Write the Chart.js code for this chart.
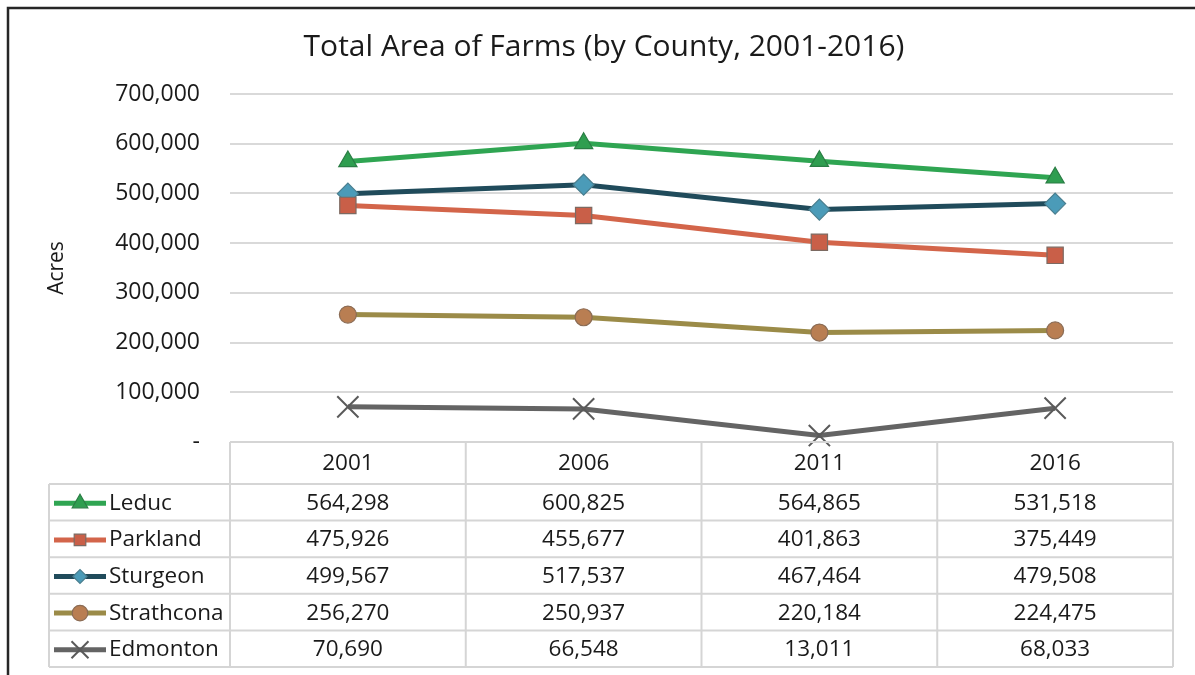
<!DOCTYPE html>
<html>
<head>
<meta charset="utf-8">
<title>Total Area of Farms</title>
<script src="https://cdn.jsdelivr.net/npm/chart.js@4.4.1/dist/chart.umd.min.js"></script>
<style>
  html, body { margin: 0; padding: 0; background: #ffffff; }
  #wrap { width: 1195px; height: 675px; position: relative; }
</style>
</head>
<body>
<div id="wrap"><canvas id="farmChart" width="1195" height="675"></canvas></div>
<script>
// ---------------- DATA ----------------
const years = ['2001', '2006', '2011', '2016'];
const countyNames = ['Leduc', 'Parkland', 'Sturgeon', 'Strathcona', 'Edmonton'];
const leducAcres = [564298, 600825, 564865, 531518];
const parklandAcres = [475926, 455677, 401863, 375449];
const sturgeonAcres = [499567, 517537, 467464, 479508];
const strathconaAcres = [256270, 250937, 220184, 224475];
const edmontonAcres = [70690, 66548, 13011, 68033];
const yTickValues = [0, 100000, 200000, 300000, 400000, 500000, 600000, 700000];

const FONT = '"Open Sans", "DejaVu Sans", sans-serif';
const TEXT = '#1a1a1a';

// stijl per reeks (lijn + marker), ook gebruikt in de legendakolom van de tabel
const seriesStyle = [
  { line: '#2fa552', fill: '#2f9e50', edge: '#2a7d44', style: 'triangle', r: 10.5, lr: 9 },
  { line: '#d3654a', fill: '#c95f48', edge: '#7c6a62', style: 'rect',     r: 11.5, lr: 8.2 },
  { line: '#204b5b', fill: '#4b9bb8', edge: '#4a7e8e', style: 'rectRot',  r: 10.5, lr: 7 },
  { line: '#9b8b48', fill: '#b97e52', edge: '#8b6c55', style: 'circle',   r: 8.5,  lr: 7.8 },
  { line: '#646464', fill: '#646464', edge: '#5a5a5a', style: 'crossRot', r: 15,   lr: 12 }
];
const seriesValues = [leducAcres, parklandAcres, sturgeonAcres, strathconaAcres, edmontonAcres];

function fmt(v) {
  return v.toLocaleString('en-US');
}

// ---------------- PLUGINS ----------------

// kader om de grafiek (alleen links en boven zichtbaar in het origineel)
const framePlugin = {
  id: 'frame',
  beforeDraw(chart) {
    const ctx = chart.ctx;
    ctx.save();
    ctx.fillStyle = '#ffffff';
    ctx.fillRect(0, 0, chart.width, chart.height);
    ctx.strokeStyle = '#262626';
    ctx.lineWidth = 2.5;
    ctx.strokeRect(8, 8, chart.width + 40, chart.height + 40);
    ctx.restore();
  }
};

function drawMarker(ctx, st, radius, x, y) {
  const bw = st.style === 'crossRot' ? 2 : 1.2;
  ctx.fillStyle = st.fill;
  ctx.strokeStyle = st.edge;
  ctx.lineWidth = bw; // drawPoint zet de lijndikte zelf niet
  const opts = { pointStyle: st.style, radius: radius, rotation: 0, borderWidth: bw };
  if (Chart.helpers && Chart.helpers.drawPoint) {
    Chart.helpers.drawPoint(ctx, opts, x, y);
  } else {
    ctx.beginPath();
    ctx.arc(x, y, radius, 0, Math.PI * 2);
    ctx.fill();
    ctx.stroke();
  }
}

// datatabel onder de grafiek, kolommen volgen de x-as
const dataTablePlugin = {
  id: 'dataTable',
  afterDraw(chart) {
    const { ctx, chartArea, scales } = chart;
    const x = scales.x;
    const colW = (chartArea.right - chartArea.left) / years.length;
    const top = chartArea.bottom;
    const headH = 42;
    const rowH = 36.6;
    const legendLeft = 49;
    const bottom = top + headH + rowH * countyNames.length;

    ctx.save();
    ctx.strokeStyle = '#d5d5d5';
    ctx.lineWidth = 2;

    // horizontale lijnen
    ctx.beginPath();
    ctx.moveTo(chartArea.left, top);
    ctx.lineTo(chartArea.right, top);
    for (let i = 0; i <= countyNames.length; i++) {
      const yy = top + headH + rowH * i;
      ctx.moveTo(legendLeft, yy);
      ctx.lineTo(chartArea.right, yy);
    }
    // verticale lijnen
    ctx.moveTo(legendLeft, top + headH);
    ctx.lineTo(legendLeft, bottom);
    ctx.moveTo(chartArea.left, top);
    ctx.lineTo(chartArea.left, bottom);
    years.forEach((yr, i) => {
      const xr = x.getPixelForValue(i) + colW / 2;
      ctx.moveTo(xr, top);
      ctx.lineTo(xr, bottom);
    });
    ctx.stroke();

    // kop met jaartallen
    ctx.fillStyle = TEXT;
    ctx.font = '22.5px ' + FONT;
    ctx.textAlign = 'center';
    ctx.textBaseline = 'middle';
    years.forEach((yr, i) => {
      ctx.fillText(yr, x.getPixelForValue(i), top + headH / 2 + 1);
    });

    // rijen per county
    countyNames.forEach((name, r) => {
      const yc = top + headH + rowH * r + rowH / 2 + 1;
      const st = seriesStyle[r];

      // legenda sleutel
      ctx.strokeStyle = st.line;
      ctx.lineWidth = 5;
      ctx.beginPath();
      ctx.moveTo(54, yc);
      ctx.lineTo(106, yc);
      ctx.stroke();
      drawMarker(ctx, st, st.lr, 80, yc);

      ctx.fillStyle = TEXT;
      ctx.textAlign = 'left';
      ctx.fillText(name, 109, yc);

      ctx.textAlign = 'center';
      seriesValues[r].forEach((v, i) => {
        ctx.fillText(fmt(v), x.getPixelForValue(i), yc);
      });
    });
    ctx.restore();
  }
};

// ---------------- CHART ----------------

function buildDatasets() {
  return countyNames.map((name, i) => {
    const st = seriesStyle[i];
    return {
      label: name,
      data: seriesValues[i],
      borderColor: st.line,
      borderWidth: 5,
      pointStyle: st.style,
      pointRadius: st.r,
      pointBackgroundColor: st.fill,
      pointBorderColor: st.edge,
      pointBorderWidth: st.style === 'crossRot' ? 2 : 1.2,
      tension: 0,
      clip: false
    };
  });
}

const farmChart = new Chart(document.getElementById('farmChart'), {
  type: 'line',
  data: {
    labels: years,
    datasets: buildDatasets()
  },
  options: {
    responsive: false,
    animation: false,
    events: [],
    layout: { padding: { left: 35, right: 22, top: 0, bottom: 233 } },
    plugins: {
      legend: { display: false },
      tooltip: { enabled: false },
      title: {
        display: true,
        text: 'Total Area of Farms (by County, 2001-2016)',
        color: TEXT,
        font: { family: FONT, size: 30, weight: 'normal' },
        padding: { top: 29, bottom: 29 }
      }
    },
    scales: {
      x: {
        type: 'category',
        offset: true,
        display: false
      },
      y: {
        min: 0,
        max: 700000,
        afterBuildTicks: axis => { axis.ticks = yTickValues.map(v => ({ value: v })); },
        afterFit: axis => { axis.width = 195; },
        border: { display: false },
        grid: { color: '#d9d9d9', lineWidth: 2, drawTicks: false },
        ticks: {
          color: TEXT,
          padding: 30,
          font: { family: FONT, size: 23 },
          callback: v => (v === 0 ? '-' : fmt(v))
        },
        title: {
          display: true,
          text: 'Acres',
          color: TEXT,
          font: { family: FONT, size: 21 },
          padding: { top: 9, bottom: 0 }
        }
      }
    }
  },
  plugins: [framePlugin, dataTablePlugin]
});
</script>
</body>
</html>
